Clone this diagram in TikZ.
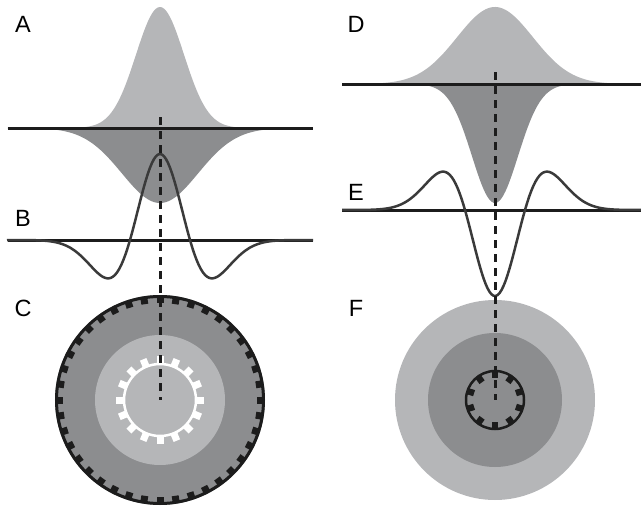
\documentclass[tikz,border=0pt]{standalone}
\usepackage{fontspec}
\setmainfont{Liberation Sans}
\usepackage{tikz}
\definecolor{lightfill}{HTML}{B5B6B8}
\definecolor{darkfill}{HTML}{8C8D8F}
\definecolor{trace}{HTML}{3A3A3A}
\definecolor{ink}{HTML}{1C1C1C}

\begin{document}
\begin{tikzpicture}[x=1pt,y=-1pt,
  axis/.style={ink,line width=3pt},
  wave/.style={trace,line width=2.5pt,line join=round},
  probe/.style={ink,line width=3pt,dash pattern=on 8pt off 6pt},
  panel/.style={font=\fontsize{23.5}{23.5}\selectfont,inner sep=0pt}]
  \useasboundingbox (0,0) rectangle (641,506);

  % Labels
  \node[panel] (lblA) at (23,24) {A};
  \node[panel] (lblB) at (23,218) {B};
  \node[panel] (lblC) at (23,308) {C};
  \node[panel] (lblD) at (356,24) {D};
  \node[panel] (lblE) at (356,192) {E};
  \node[panel] (lblF) at (356,308) {F};

  % Centre (A)
  \fill[lightfill] plot[domain=-153:153,samples=151] ({160+\x},{128-121*exp(-0.5*(\x/24)*(\x/24))}) -- cycle;
  \fill[darkfill] plot[domain=-153:153,samples=151] ({160+\x},{128+75*exp(-0.5*(\x/38)*(\x/38))}) -- cycle;
  \draw[axis] (8,128) -- (313,128);

  % Profile (B)
  \draw[axis] (8,240) -- (313,240);
  \draw[wave] plot[domain=-153:153,samples=151] ({160+\x},{240-86*(1-(\x/30)*(\x/30))*exp(-0.5*(\x/30)*(\x/30))});

  % Field (C)
  \coordinate (topA) at (160,117);
  \coordinate (cC) at (160,400);
  \fill[darkfill] (cC) circle[radius=105];
  \fill[lightfill] (cC) circle[radius=65];
  \draw[white,line width=2.5pt] (cC) circle[radius=36];
  \foreach \a in {0,22.5,...,337.5}
    \fill[white,shift={(cC)},rotate=\a] (36,-3.5) rectangle (44,3.5);
  \foreach \a in {0,9,...,351}
    \fill[ink,shift={(cC)},rotate=\a] (97,-3.5) rectangle (103,3.5);
  \draw[ink,line width=3pt] (cC) circle[radius=103.5];
  \draw[probe] (topA) -- (cC);

  % Centre (D)
  \fill[lightfill] plot[domain=-153:146,samples=151] ({495+\x},{84-77*exp(-0.5*(\x/38)*(\x/38))}) -- cycle;
  \fill[darkfill] plot[domain=-153:146,samples=151] ({495+\x},{84+119*exp(-0.5*(\x/23)*(\x/23))}) -- cycle;
  \draw[axis] (342,84) -- (641,84);

  % Profile (E)
  \draw[axis] (342,210) -- (641,210);
  \draw[wave] plot[domain=-153:146,samples=151] ({495+\x},{210+86*(1-(\x/30)*(\x/30))*exp(-0.5*(\x/30)*(\x/30))});

  % Field (F)
  \coordinate (topD) at (495,72);
  \coordinate (cF) at (495,400);
  \fill[lightfill] (cF) circle[radius=100];
  \fill[darkfill] (cF) circle[radius=67];
  \foreach \a in {0,36,...,324}
    \fill[ink,shift={(cF)},rotate=\a+18] (22,-3.2) rectangle (28.5,3.2);
  \draw[ink,line width=2.5pt] (cF) circle[radius=29];
  \draw[probe] (topD) -- (cF);
\end{tikzpicture}
\end{document}
